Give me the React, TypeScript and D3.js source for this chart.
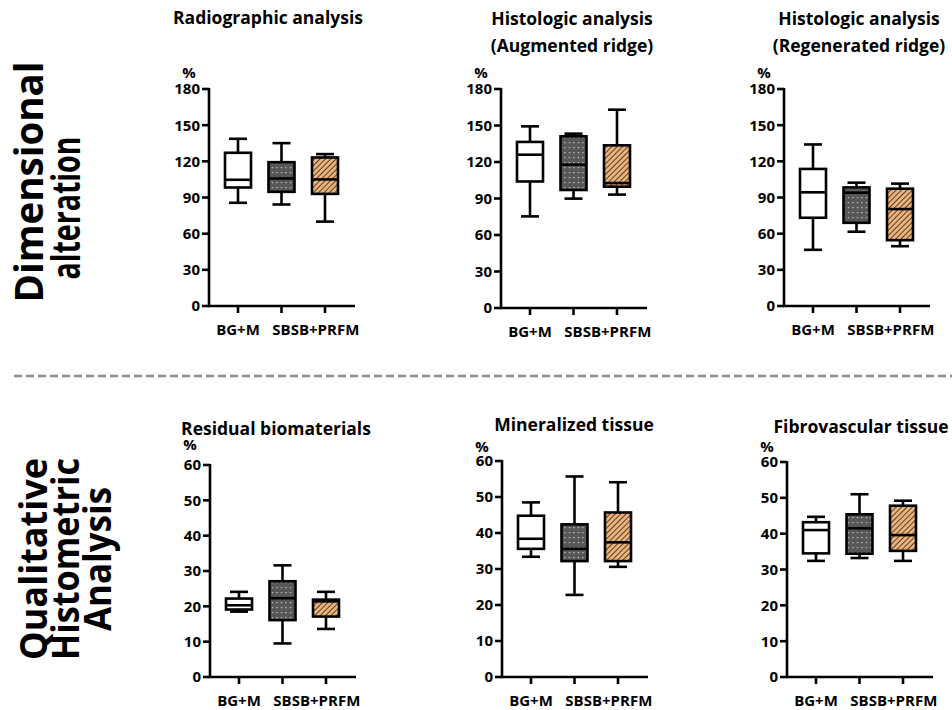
import React from "react";
import * as d3 from "d3";

// groups on the x axis ("SB" and "SB+PRFM" labels run together in the original)
const categories = ["BG+M", "SB", "SB+PRFM"];
const topTicks = [0, 30, 60, 90, 120, 150, 180];
const bottomTicks = [0, 10, 20, 30, 40, 50, 60];

// each group: [min, q1, median, q3, max]
const radiographic = [[85.6, 98.3, 104.7, 127.1, 138.7], [84.2, 94.7, 105.8, 119.3, 135.1], [70, 93, 105, 123.2, 126]];
const augmented = [[75.3, 104, 126, 136.5, 149.3], [89.9, 97, 117.8, 141.1, 143.3], [93.2, 99.7, 102.7, 133.7, 163]];
const regenerated = [[46.6, 73.2, 94.3, 113.7, 134], [61.6, 69, 94, 98.4, 102.3], [49.6, 54.6, 80.4, 97.3, 101.5]];
const residual = [[18.5, 19.1, 20.3, 22.2, 24.1], [9.5, 16.1, 22.3, 27.1, 31.6], [13.6, 17.1, 21.4, 21.9, 24.1]];
const mineralized = [[33.4, 35.6, 38.4, 44.8, 48.5], [22.8, 32.2, 35.6, 42.4, 55.7], [30.6, 32.2, 37.4, 45.7, 54.1]];
const fibrovascular = [[32.4, 34.5, 41, 43.2, 44.7], [33.2, 34.4, 41.5, 45.4, 51], [32.4, 35.2, 39.6, 47.8, 49.2]];

const fills = ["#ffffff", "url(#dots)", "url(#hatch)"];
const font = "'Open Sans', sans-serif";

const panels = [
  { title: ["Radiographic analysis"], titleX: 268, titleY: 24, data: radiographic, ticks: topTicks, x: 209, top: 89, bottom: 306, pctY: 78 },
  { title: ["Histologic analysis", "(Augmented ridge)"], titleX: 572, titleY: 25, data: augmented, ticks: topTicks, x: 501, top: 89, bottom: 308, pctY: 78 },
  { title: ["Histologic analysis", "(Regenerated ridge)"], titleX: 859, titleY: 25, data: regenerated, ticks: topTicks, x: 784, top: 89, bottom: 306, pctY: 78 },
  { title: ["Residual biomaterials"], titleX: 276, titleY: 435, data: residual, ticks: bottomTicks, x: 210, top: 465, bottom: 677, pctY: 450 },
  { title: ["Mineralized tissue"], titleX: 574, titleY: 431, data: mineralized, ticks: bottomTicks, x: 502, top: 461, bottom: 677, pctY: 452 },
  { title: ["Fibrovascular tissue"], titleX: 861, titleY: 433, data: fibrovascular, ticks: bottomTicks, x: 787, top: 462, bottom: 677, pctY: 452 },
];

function Panel({ p }: { p: any }) {
  const y = d3.scaleLinear().domain([0, d3.max(p.ticks) as number]).range([p.bottom, p.top]);
  const x = d3.scalePoint().domain(categories).range([p.x + 29, p.x + 116]);
  const bw = 26, cap = 18, sw = 2.6;
  return (
    <g>
      {p.title.map((t: string, i: number) => (
        <text key={t} x={p.titleX} y={p.titleY + i * 27} textAnchor="middle" fontSize={17.5} fontWeight={700} fontFamily={font}>{t}</text>
      ))}
      <text x={p.x - 20} y={p.pctY} textAnchor="middle" fontSize={15} fontWeight={700} fontFamily={font}>%</text>
      {/* y axis */}
      <line x1={p.x} x2={p.x} y1={p.top - 1} y2={p.bottom + 1} stroke="#000" strokeWidth={sw} />
      {p.ticks.map((t: number) => (
        <g key={t}>
          <line x1={p.x - 7} x2={p.x} y1={y(t)} y2={y(t)} stroke="#000" strokeWidth={sw} />
          <text x={p.x - 9} y={y(t)} dy="0.36em" textAnchor="end" fontSize={15} fontWeight={700} fontFamily={font}>{t}</text>
        </g>
      ))}
      {/* x axis */}
      <line x1={p.x - 1} x2={p.x + 146} y1={p.bottom} y2={p.bottom} stroke="#000" strokeWidth={sw} />
      {categories.map((c) => (
        <g key={c}>
          <line x1={x(c)} x2={x(c)} y1={p.bottom} y2={p.bottom + 7} stroke="#000" strokeWidth={sw} />
          <text x={x(c)} y={p.bottom + 29} textAnchor="middle" fontSize={15} fontWeight={700} fontFamily={font}>{c}</text>
        </g>
      ))}
      {/* boxes */}
      {p.data.map((d: number[], i: number) => {
        const cx = x(categories[i]) as number;
        const [mn, q1, md, q3, mx] = d;
        return (
          <g key={i} stroke="#000" strokeWidth={sw}>
            <line x1={cx} x2={cx} y1={y(mx)} y2={y(q3)} />
            <line x1={cx} x2={cx} y1={y(q1)} y2={y(mn)} />
            <line x1={cx - cap / 2} x2={cx + cap / 2} y1={y(mx)} y2={y(mx)} />
            <line x1={cx - cap / 2} x2={cx + cap / 2} y1={y(mn)} y2={y(mn)} />
            <rect x={cx - bw / 2} y={y(q3)} width={bw} height={y(q1) - y(q3)} fill={fills[i]} />
            <line x1={cx - bw / 2} x2={cx + bw / 2} y1={y(md)} y2={y(md)} />
          </g>
        );
      })}
    </g>
  );
}

export default function App() {
  return (
    <div style={{ position: "absolute", left: 0, top: 0 }}>
      <svg width={952} height={710} style={{ display: "block", background: "#fff" }}>
        <defs>
          <pattern id="dots" width={4.5} height={5} patternUnits="userSpaceOnUse">
            <rect width={4.5} height={5} fill="#575757" />
            <rect x={1.8} y={2} width={1.2} height={1.2} fill="#cfcfcf" />
          </pattern>
          <pattern id="hatch" width={3.8} height={5} patternUnits="userSpaceOnUse" patternTransform="rotate(45)">
            <rect width={3.8} height={5} fill="#ebb27b" />
            <line x1={0} x2={0} y1={0} y2={5} stroke="#2a1e12" strokeWidth={1.5} />
          </pattern>
        </defs>

        {/* row labels */}
        <text transform="translate(43,182) rotate(-90)" textAnchor="middle" fontSize={40} fontWeight={700} fontFamily={font} textLength={241} lengthAdjust="spacingAndGlyphs">Dimensional</text>
        <text transform="translate(80,208) rotate(-90)" textAnchor="middle" fontSize={40} fontWeight={700} fontFamily={font} textLength={143} lengthAdjust="spacingAndGlyphs">alteration</text>
        <text transform="translate(47,559) rotate(-90)" textAnchor="middle" fontSize={37} fontWeight={700} fontFamily={font} textLength={202} lengthAdjust="spacingAndGlyphs">Qualitative</text>
        <text transform="translate(79,559) rotate(-90)" textAnchor="middle" fontSize={37} fontWeight={700} fontFamily={font} textLength={202} lengthAdjust="spacingAndGlyphs">Histometric</text>
        <text transform="translate(111,559) rotate(-90)" textAnchor="middle" fontSize={37} fontWeight={700} fontFamily={font} textLength={144} lengthAdjust="spacingAndGlyphs">Analysis</text>

        <line x1={14} x2={952} y1={376} y2={376} stroke="#8a8a8a" strokeWidth={2.5} strokeDasharray="8 4" />

        {panels.map((p, i) => <Panel key={i} p={p} />)}
      </svg>
    </div>
  );
}
